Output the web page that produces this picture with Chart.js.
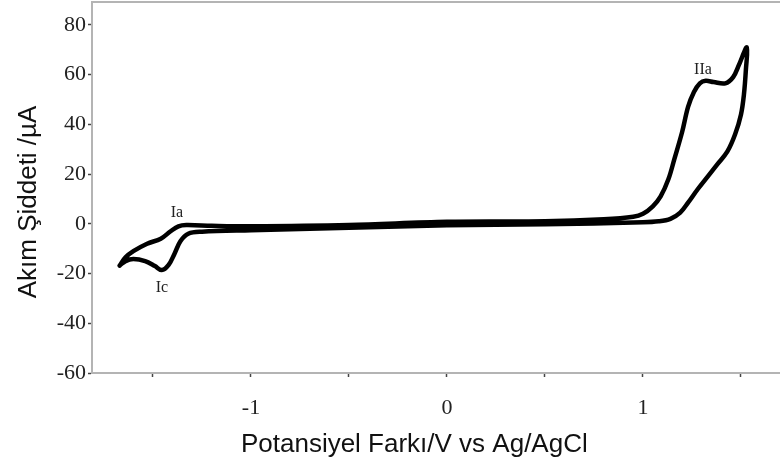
<!DOCTYPE html>
<html>
<head>
<meta charset="utf-8">
<script src="https://cdn.jsdelivr.net/npm/chart.js@4.4.1/dist/chart.umd.min.js"></script>
<style>
  html, body { margin: 0; padding: 0; background: #fff; }
  #wrap { width: 780px; height: 466px; }
</style>
</head>
<body>
<div id="wrap"><canvas id="cv"></canvas></div>
<script>
// Cyclic voltammogram (V vs Ag/AgCl, µA)

// anodic sweep, from the negative vertex up to the positive vertex
const potentialForward = [-1.67, -1.64, -1.60, -1.53, -1.46, -1.41, -1.37, -1.33, -1.2, -1.0, -0.5, 0, 0.5, 0.8, 0.95,
  1.0, 1.05, 1.09, 1.13, 1.16, 1.2, 1.23, 1.26, 1.29, 1.32, 1.36, 1.42, 1.46, 1.49, 1.53];
const currentForward = [-16.8, -13.5, -11, -8, -6, -3, -1, -0.5, -0.8, -1.0, -0.5, 0.8, 1.0, 1.8, 2.8,
  4, 7, 11, 18, 26, 37, 47, 53, 56.5, 57.5, 57, 56.5, 59, 64, 71];

// cathodic sweep, back from the positive vertex
const potentialReverse = [1.525, 1.515, 1.5, 1.47, 1.43, 1.38, 1.33, 1.28, 1.23, 1.19, 1.14, 1.08, 1.0, 0.5, 0,
  -0.5, -1.0, -1.25, -1.32, -1.36, -1.39, -1.42, -1.455, -1.49, -1.54, -1.6, -1.64, -1.67];
const currentReverse = [62, 52, 44, 36, 29, 24, 19, 14, 8.5, 4.5, 2, 1, 0.6, -0.2, -0.6,
  -1.6, -2.6, -3.2, -4, -7, -12, -16.5, -18.6, -17, -15, -14.2, -15, -16.8];

const xTickLabels = ['-1', '0', '1'];
const yTickLabels = ['-60', '-40', '-20', '0', '20', '40', '60', '80'];

const peakLabels = [
  { text: 'Ia', x: -1.378, y: 4.6 },
  { text: 'Ic', x: -1.454, y: -25.6 },
  { text: 'IIa', x: 1.306, y: 62 }
];

const points = [];
potentialForward.forEach((v, i) => points.push({ x: v, y: currentForward[i] }));
potentialReverse.forEach((v, i) => points.push({ x: v, y: currentReverse[i] }));

const axisGray = '#b4b4b4';
const tickDark = '#444';
const serif = '"Liberation Serif", "DejaVu Serif", serif';
const sans = '"Liberation Sans", Arial, sans-serif';
const nbsp = n => '\u00a0'.repeat(n); // pads a title so its visible text sits off-centre like the original

// top frame line and the peak names
const extras = {
  id: 'extras',
  afterDatasetsDraw(chart) {
    const { ctx, chartArea, scales } = chart;
    ctx.save();
    ctx.strokeStyle = axisGray;
    ctx.lineWidth = 2;
    ctx.beginPath();
    ctx.moveTo(chartArea.left, chartArea.top);
    ctx.lineTo(chartArea.right, chartArea.top);
    ctx.stroke();

    ctx.fillStyle = '#222';
    ctx.font = '16px ' + serif;
    ctx.textAlign = 'center';
    ctx.textBaseline = 'middle';
    peakLabels.forEach(p => {
      ctx.fillText(p.text, scales.x.getPixelForValue(p.x), scales.y.getPixelForValue(p.y));
    });
    ctx.restore();
  }
};

new Chart(document.getElementById('cv'), {
  type: 'scatter',
  data: {
    datasets: [{
      data: points,
      showLine: true,
      borderColor: '#000',
      borderWidth: 4.5,
      borderJoinStyle: 'round',
      borderCapStyle: 'round',
      tension: 0.35,
      pointRadius: 0
    }]
  },
  options: {
    responsive: true,
    maintainAspectRatio: false,
    animation: false,
    layout: { padding: { left: 0, right: 0, top: 2, bottom: 0 } },
    plugins: { legend: { display: false }, tooltip: { enabled: false } },
    scales: {
      x: {
        type: 'linear',
        min: -1.811,
        max: 1.699,
        afterFit(scale) {
          scale.height = 93;
          scale.paddingLeft = 0;
          scale.paddingRight = 0;
        },
        border: { color: axisGray, width: 2 },
        grid: { drawOnChartArea: false, drawTicks: true, tickLength: 4, tickColor: tickDark, tickWidth: 1.5 },
        ticks: {
          stepSize: 0.5,
          includeBounds: false,
          padding: 18,
          color: '#222',
          font: { family: serif, size: 22 },
          callback: v => {
            const label = String(v);
            return xTickLabels.includes(label) ? label : '';
          }
        },
        title: {
          display: true,
          text: 'Potansiyel Farkı/V vs Ag/AgCl' + nbsp(6),
          color: '#111',
          font: { family: sans, size: 26 },
          padding: { top: 0, bottom: 6 }
        }
      },
      y: {
        type: 'linear',
        min: -60,
        max: 89.2,
        afterFit(scale) {
          scale.width = 92;
          scale.paddingTop = 0;
          scale.paddingBottom = 0;
        },
        border: { color: axisGray, width: 2 },
        grid: { drawOnChartArea: false, drawTicks: true, tickLength: 4, tickColor: tickDark, tickWidth: 1.5 },
        ticks: {
          stepSize: 10,
          includeBounds: false,
          padding: 2,
          color: '#222',
          font: { family: serif, size: 22 },
          callback: v => {
            const label = String(v);
            return yTickLabels.includes(label) ? label : '';
          }
        },
        title: {
          display: true,
          text: 'Akım Şiddeti /µA' + nbsp(4),
          color: '#111',
          font: { family: sans, size: 26 },
          padding: { top: 13, bottom: 0 }
        }
      }
    }
  },
  plugins: [extras]
});
</script>
</body>
</html>
